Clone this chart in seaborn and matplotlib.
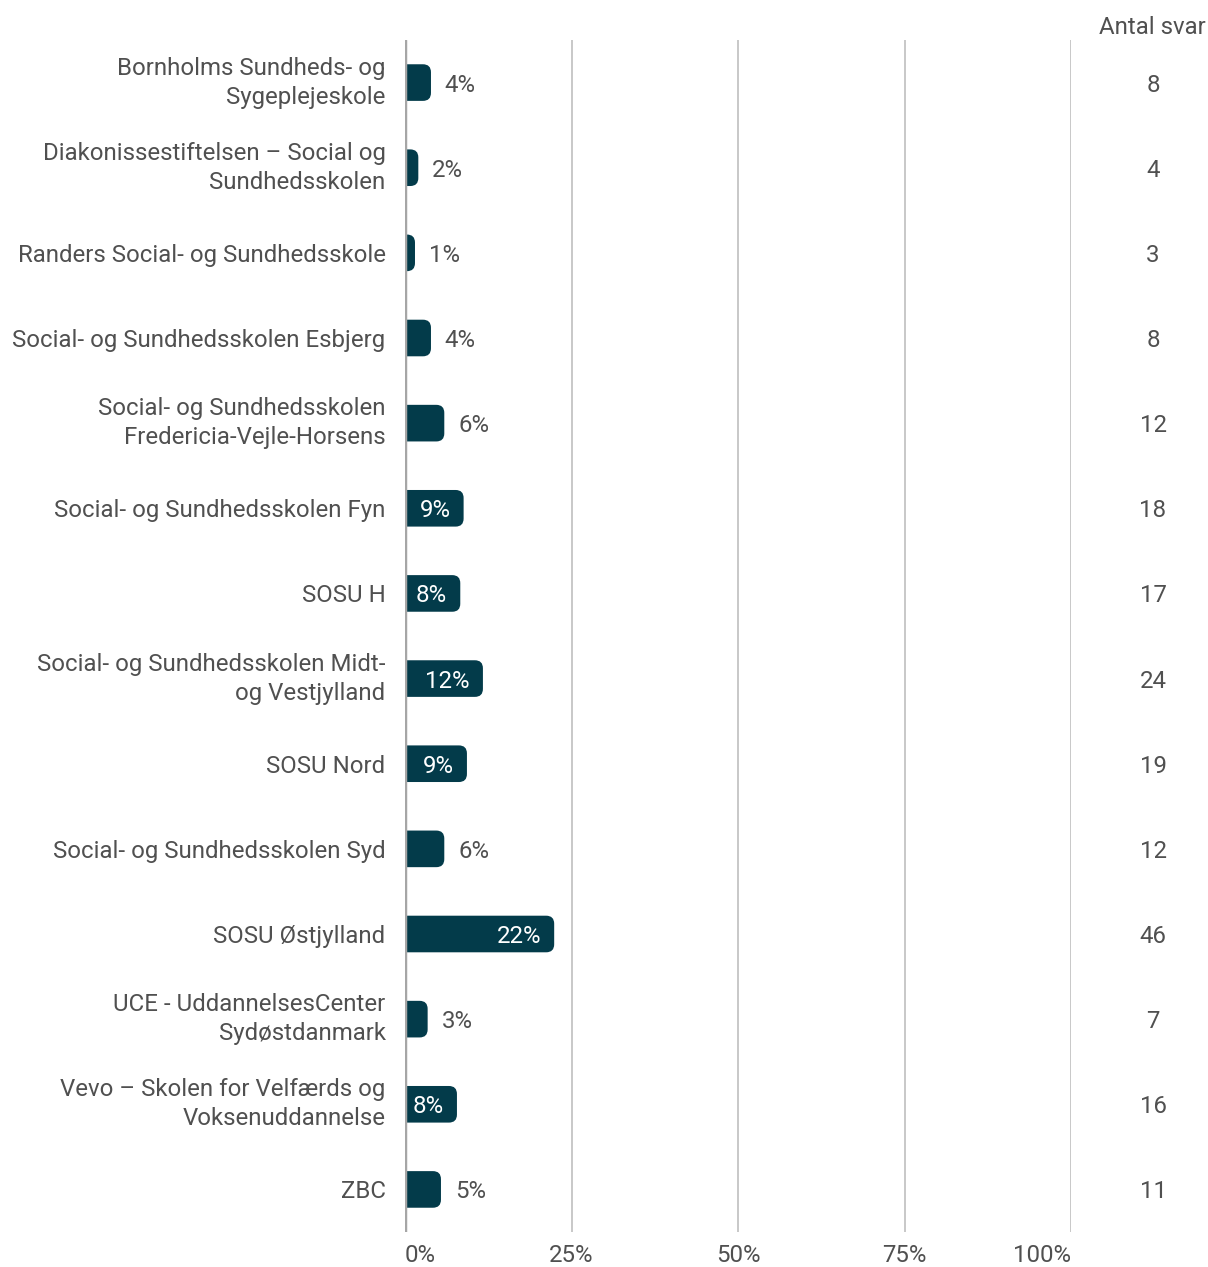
import matplotlib
matplotlib.use("Agg")
import matplotlib.pyplot as plt
import matplotlib.transforms as mtransforms
from matplotlib.patches import FancyBboxPatch
import seaborn as sns
import pandas as pd

schools = [
    "Bornholms Sundheds- og\nSygeplejeskole",
    "Diakonissestiftelsen – Social og\nSundhedsskolen",
    "Randers Social- og Sundhedsskole",
    "Social- og Sundhedsskolen Esbjerg",
    "Social- og Sundhedsskolen\nFredericia-Vejle-Horsens",
    "Social- og Sundhedsskolen Fyn",
    "SOSU H",
    "Social- og Sundhedsskolen Midt-\nog Vestjylland",
    "SOSU Nord",
    "Social- og Sundhedsskolen Syd",
    "SOSU Østjylland",
    "UCE - UddannelsesCenter\nSydøstdanmark",
    "Vevo – Skolen for Velfærds og\nVoksenuddannelse",
    "ZBC",
]
pct = [3.9, 2.0, 1.5, 3.9, 5.9, 8.8, 8.3, 11.7, 9.3, 5.9, 22.4, 3.4, 7.8, 5.4]
pct_labels = ["4%", "2%", "1%", "4%", "6%", "9%", "8%", "12%", "9%", "6%", "22%", "3%", "8%", "5%"]
antal = [8, 4, 3, 8, 12, 18, 17, 24, 19, 12, 46, 7, 16, 11]
xticks = [0, 25, 50, 75, 100]
xtick_labels = ["0%", "25%", "50%", "75%", "100%"]

BAR = "#033B4A"
TXT = "#505050"
FS = 17.3

sns.set_theme(style="white")
plt.rcParams["font.family"] = ["Roboto", "DejaVu Sans"]

W, H = 1208, 1267
fig = plt.figure(figsize=(W / 100, H / 100), dpi=100)
ax = fig.add_axes([405 / W, 1 - 1232 / H, (1071 - 405) / W, (1232 - 40) / H])

df = pd.DataFrame({"school": schools, "pct": pct})
sns.barplot(data=df, y="school", x="pct", orient="h", color=BAR, width=0.43,
            saturation=1, ax=ax)

ax.set_xlim(0, 100)
ax.set_ylim(len(schools) - 0.5, -0.5)

# replace rectangles with right-rounded bars
px_per_x = (1071 - 405) / 100.0
px_per_y = (1232 - 40) / len(schools)
r_px = 8
r_x = r_px / px_per_x
aspect = (1 / px_per_y) / (1 / px_per_x)
for p in list(ax.patches):
    x0, y0 = p.get_x(), p.get_y()
    w, h = p.get_width(), p.get_height()
    p.remove()
    fb = FancyBboxPatch((x0 - r_x, y0), w + r_x, h,
                        boxstyle=f"round,pad=0,rounding_size={r_x}",
                        mutation_aspect=aspect, facecolor=BAR, edgecolor="none",
                        zorder=2)
    ax.add_patch(fb)

# grid
for xt in xticks[1:]:
    ax.axvline(xt, color="#C4C4C4", lw=1.3, zorder=0)
ax.axvline(0, color="#A6A6A6", lw=2.5, zorder=3)

for s in ax.spines.values():
    s.set_visible(False)

ax.set_xlabel("")
ax.set_ylabel("")
ax.set_xticks(xticks)
ax.set_xticklabels(xtick_labels, fontsize=FS, color=TXT)
for lbl, ha in zip(ax.get_xticklabels(), ["left", "center", "center", "center", "right"]):
    lbl.set_ha(ha)
ax.tick_params(axis="x", length=0, pad=9)
ax.tick_params(axis="y", length=0, pad=14)
ax.set_yticks(range(len(schools)))
ax.set_yticklabels(schools, fontsize=FS, color=TXT)
for lbl in ax.get_yticklabels():
    lbl.set_multialignment("right")
    lbl.set_linespacing(1.33)
    if "\n" in lbl.get_text():
        lbl.set_va("center")

# value labels
for i, (v, lab) in enumerate(zip(pct, pct_labels)):
    if v >= 7.5:
        ax.annotate(lab, (v, i), xytext=(-9.5, 0), textcoords="offset points",
                    ha="right", va="center_baseline", color="white", fontsize=FS, zorder=4)
    else:
        ax.annotate(lab, (v, i), xytext=(10, 0), textcoords="offset points",
                    ha="left", va="center_baseline", color=TXT, fontsize=FS, zorder=4)

# Antal svar column
trans = mtransforms.blended_transform_factory(fig.transFigure, ax.transData)
for i, n in enumerate(antal):
    ax.text(1153 / W, i, str(n), transform=trans, ha="center", va="center_baseline",
            color=TXT, fontsize=FS, clip_on=False)
fig.text(1152 / W, 1 - 25 / H, "Antal svar", ha="center", va="center_baseline",
         color=TXT, fontsize=FS)

fig.savefig("out.png", dpi=100, facecolor="white")
